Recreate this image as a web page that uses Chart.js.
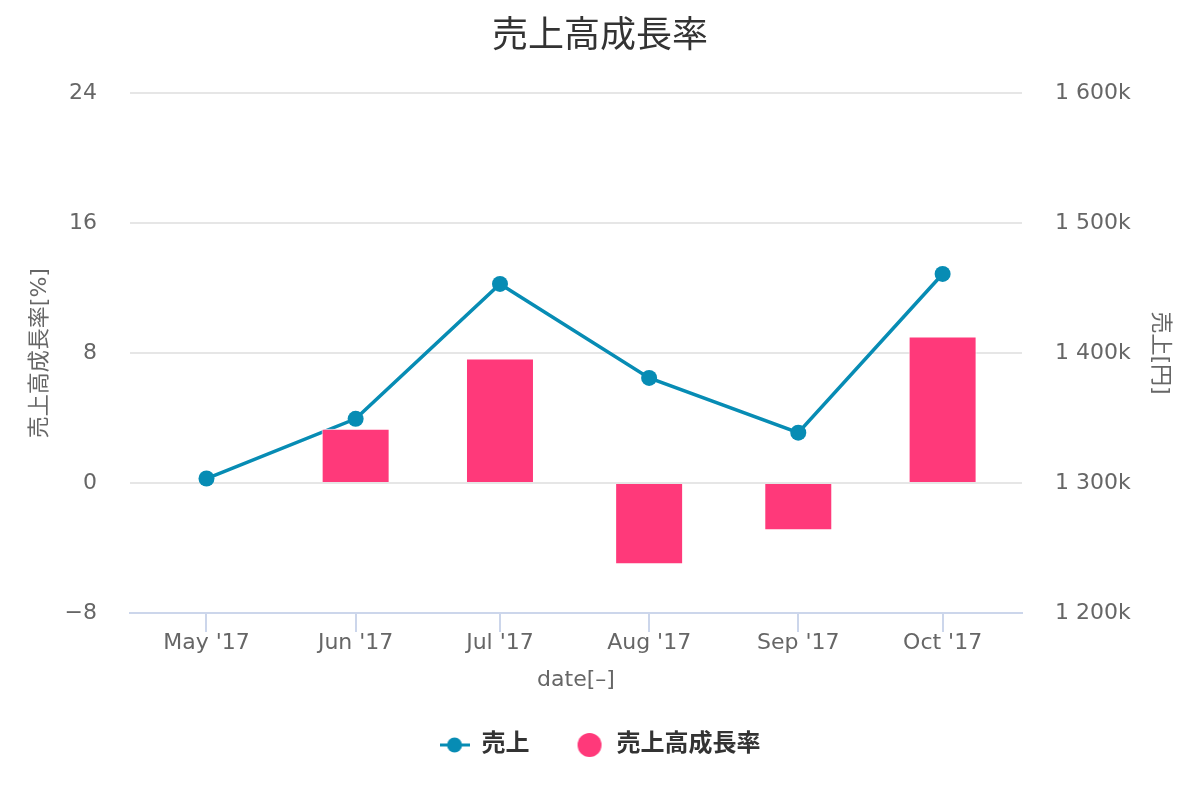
<!DOCTYPE html>
<html>
<head>
<meta charset="utf-8">
<script src="https://cdn.jsdelivr.net/npm/chart.js@4"></script>
<style>
html,body{margin:0;padding:0;background:#fff;}
#wrap{width:1200px;height:800px;}
</style>
</head>
<body>
<div id="wrap"><canvas id="c" width="1200" height="800"></canvas></div>
<script>
const categories = ["May '17", "Jun '17", "Jul '17", "Aug '17", "Sep '17", "Oct '17"];
const dates = ['2017-05-01', '2017-06-01', '2017-07-01', '2017-08-01', '2017-09-01', '2017-10-01'];
const salesValues = [1303500, 1349400, 1453200, 1380900, 1338800, 1460900];
const growthValues = [null, 3.35, 7.66, -5.0, -2.9, 9.02];
const leftTicks = [-8, 0, 8, 16, 24];
const rightTicks = [1200000, 1300000, 1400000, 1500000, 1600000];

const LINE_COLOR = '#078cb4';
const BAR_COLOR = '#ff397a';
const FONT = '"DejaVu Sans", "Noto Sans CJK JP", sans-serif';

// day offsets of each month start from the first date (time axis)
const DAY = 86400000;
const t0 = Date.parse(dates[0] + 'T00:00:00Z');
const dayOffsets = dates.map(d => Math.round((Date.parse(d + 'T00:00:00Z') - t0) / DAY));
const xMin = dayOffsets[0] - 15.9;
const xMax = dayOffsets[dayOffsets.length - 1] + 16.5;

function lineSymbol() {
  const c = document.createElement('canvas');
  c.width = 30; c.height = 18;
  const x = c.getContext('2d');
  x.strokeStyle = LINE_COLOR; x.lineWidth = 3;
  x.beginPath(); x.moveTo(0, 9); x.lineTo(30, 9); x.stroke();
  x.fillStyle = LINE_COLOR;
  x.beginPath(); x.arc(15, 9, 7.5, 0, Math.PI * 2); x.fill();
  return c;
}
function circleSymbol() {
  const c = document.createElement('canvas');
  c.width = 26; c.height = 26;
  const x = c.getContext('2d');
  x.fillStyle = BAR_COLOR;
  x.beginPath(); x.arc(13, 13, 12, 0, Math.PI * 2); x.fill();
  return c;
}
const symbols = [lineSymbol(), circleSymbol()];

new Chart(document.getElementById('c'), {
  type: 'bar',
  data: {
    datasets: [
      {
        type: 'line',
        label: '売上',
        data: dayOffsets.map((d, i) => ({ x: d, y: salesValues[i] })),
        yAxisID: 'y2',
        borderColor: LINE_COLOR,
        backgroundColor: LINE_COLOR,
        borderWidth: 3.5,
        pointRadius: 8,
        pointHoverRadius: 8,
        pointBackgroundColor: LINE_COLOR,
        pointBorderWidth: 0,
        tension: 0,
        order: 2
      },
      {
        type: 'bar',
        label: '売上高成長率',
        data: dayOffsets.map((d, i) => ({ x: d, y: growthValues[i] })),
        yAxisID: 'y',
        backgroundColor: BAR_COLOR,
        borderColor: '#ffffff',
        borderWidth: 1,
        categoryPercentage: 1,
        barPercentage: 0.471,
        order: 1
      }
    ]
  },
  options: {
    responsive: false,
    animation: false,
    devicePixelRatio: 1,
    layout: { padding: { left: 0, right: 0, top: 0, bottom: 33 } },
    plugins: {
      title: {
        display: true,
        text: '売上高成長率',
        color: '#333333',
        font: { family: FONT, size: 36, weight: 'normal' },
        padding: { top: 16, bottom: 34 }
      },
      legend: {
        display: true,
        position: 'bottom',
        labels: {
          usePointStyle: true,
          pointStyleWidth: 30,
          padding: 45,
          color: '#333333',
          font: { family: FONT, size: 24, weight: 'bold' },
          sort: (a, b) => a.datasetIndex - b.datasetIndex,
          generateLabels: (chart) => chart.data.datasets.map((ds, i) => ({
            text: ds.label,
            datasetIndex: i,
            pointStyle: symbols[i],
            fillStyle: i === 0 ? LINE_COLOR : BAR_COLOR,
            strokeStyle: i === 0 ? LINE_COLOR : BAR_COLOR,
            lineWidth: 0,
            hidden: false,
            fontColor: '#333333'
          }))
        }
      },
      tooltip: { enabled: false }
    },
    scales: {
      x: {
        type: 'linear',
        offset: false,
        min: xMin,
        max: xMax,
        afterFit: (s) => { s.height = 75; },
        afterBuildTicks: (s) => { s.ticks = dayOffsets.map(v => ({ value: v })); },
        grid: {
          display: true,
          offset: false,
          drawOnChartArea: false,
          drawTicks: true,
          tickLength: 19,
          color: '#ccd6eb',
          lineWidth: 2
        },
        border: { display: true, color: '#ccd6eb', width: 2 },
        ticks: {
          color: '#666666',
          padding: -2,
          maxRotation: 0,
          autoSkip: false,
          font: { family: FONT, size: 22 },
          callback: (v) => categories[dayOffsets.indexOf(v)]
        },
        title: {
          display: true,
          text: 'date[–]',
          color: '#666666',
          font: { family: FONT, size: 22 },
          padding: { top: 0, bottom: -5 }
        }
      },
      y: {
        type: 'linear',
        position: 'left',
        min: -8,
        max: 24,
        afterFit: (s) => { s.width = 130; },
        afterBuildTicks: (s) => { s.ticks = leftTicks.map(v => ({ value: v })); },
        grid: { color: '#e6e6e6', lineWidth: 2, drawTicks: false },
        border: { display: false },
        ticks: {
          color: '#666666',
          padding: 33,
          font: { family: FONT, size: 22 },
          callback: (v) => String(v).replace('-', '−')
        },
        title: {
          display: true,
          text: '売上高成長率[%]',
          color: '#666666',
          font: { family: FONT, size: 22 },
          padding: { top: 27, bottom: 0 }
        }
      },
      y2: {
        type: 'linear',
        position: 'right',
        min: 1200000,
        max: 1600000,
        afterFit: (s) => { s.width = 178; },
        afterBuildTicks: (s) => { s.ticks = rightTicks.map(v => ({ value: v })); },
        grid: { drawOnChartArea: false, drawTicks: false },
        border: { display: false },
        ticks: {
          color: '#666666',
          padding: 33,
          font: { family: FONT, size: 22 },
          callback: (v) => String(Math.round(v / 1000)).replace(/\B(?=(\d{3})+(?!\d))/g, ' ') + 'k'
        },
        title: {
          display: true,
          text: '売上[円]',
          color: '#666666',
          font: { family: FONT, size: 22 },
          padding: { top: 27, bottom: 0 }
        }
      }
    }
  }
});
</script>
</body>
</html>
